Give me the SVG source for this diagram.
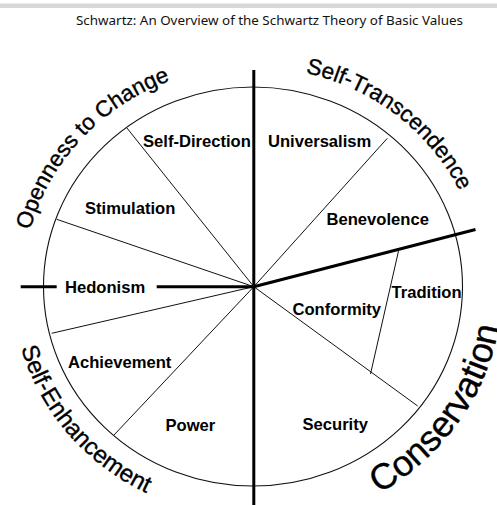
<svg xmlns="http://www.w3.org/2000/svg" xmlns:xlink="http://www.w3.org/1999/xlink" width="497" height="505" viewBox="0 0 497 505">
  <style>
    .value { font-family: "Liberation Sans", Arial, sans-serif; font-weight: bold; font-size: 16.6px; fill: #000; }
    .domain { font-family: "Liberation Sans", Arial, sans-serif; fill: #000; stroke: #000; stroke-width: 0.35; }
    .title { font-family: "Noto Sans", "Open Sans", sans-serif; font-size: 13.4px; fill: #111; }
    .thin { stroke: #111; stroke-width: 1; fill: none; }
    .thick { stroke: #000; stroke-width: 3; fill: none; }
  </style>
  <defs>
    <!-- baselines for the four higher-order domain labels -->
    <path id="arcOpenness" d="M 34.8 357.6 A 230.5 220.5 0 0 1 297.8 70.2"/>
    <path id="arcTranscend" d="M 172.4 81.0 A 229.5 219.5 0 0 1 479.4 322.5"/>
    <path id="arcEnhance" d="M 28.6 203.5 A 240.5 230.5 0 0 0 290.2 514.2"/>
    <path id="arcConserve" d="M 235.2 525.4 A 249.5 239.5 0 0 0 477.5 181.9"/>
  </defs>

  <rect width="497" height="505" fill="#fff"/>
  <rect x="0" y="3.5" width="497" height="4.5" fill="#d8d8d8"/>
  <text class="title" x="76" y="24.5" textLength="387" lengthAdjust="spacingAndGlyphs">Schwartz: An Overview of the Schwartz Theory of Basic Values</text>

  <g id="wheel">
    <ellipse cx="253" cy="286.5" rx="209.5" ry="199.5" fill="none" stroke="#111" stroke-width="1.1"/>
  </g>

  <g id="connectors">
    <!-- thin dividers between neighbouring values -->
    <line class="thin" x1="253.8" y1="286.7" x2="126.7" y2="127.7"/>
    <line class="thin" x1="253.8" y1="286.7" x2="56.7" y2="219.3"/>
    <line class="thin" x1="253.8" y1="286.7" x2="51.7" y2="333.3"/>
    <line class="thin" x1="253.8" y1="286.7" x2="114" y2="435"/>
    <line class="thin" x1="253.8" y1="286.7" x2="387.3" y2="138.3"/>
    <line class="thin" x1="253.8" y1="286.7" x2="417.7" y2="406"/>
    <line class="thin" x1="398.5" y1="251" x2="370.5" y2="374"/>
    <!-- thick axes between the higher-order domains -->
    <line class="thick" x1="253.8" y1="70" x2="253.8" y2="505"/>
    <line class="thick" x1="20.7" y1="286.7" x2="56.7" y2="286.7"/>
    <line class="thick" x1="156.7" y1="286.7" x2="253.8" y2="286.7"/>
    <line class="thick" x1="253.8" y1="286.7" x2="475.5" y2="229.5"/>
  </g>

  <g id="self-direction"><text class="value" x="143" y="147.3">Self-Direction</text></g>
  <g id="stimulation"><text class="value" x="85" y="214">Stimulation</text></g>
  <g id="hedonism"><text class="value" x="65" y="293.3">Hedonism</text></g>
  <g id="achievement"><text class="value" x="68" y="367.7">Achievement</text></g>
  <g id="power"><text class="value" x="165.5" y="431">Power</text></g>
  <g id="security"><text class="value" x="302.5" y="430">Security</text></g>
  <g id="conformity"><text class="value" x="292.5" y="315">Conformity</text></g>
  <g id="tradition"><text class="value" x="391.5" y="298.3">Tradition</text></g>
  <g id="benevolence"><text class="value" x="326.5" y="225">Benevolence</text></g>
  <g id="universalism"><text class="value" x="268" y="147">Universalism</text></g>

  <g id="openness-to-change">
    <text class="domain" font-size="22.5"><textPath xlink:href="#arcOpenness" href="#arcOpenness" startOffset="50%" text-anchor="middle">Openness to Change</textPath></text>
  </g>
  <g id="self-transcendence">
    <text class="domain" font-size="22.5"><textPath xlink:href="#arcTranscend" href="#arcTranscend" startOffset="50%" text-anchor="middle">Self-Transcendence</textPath></text>
  </g>
  <g id="self-enhancement">
    <text class="domain" font-size="24"><textPath xlink:href="#arcEnhance" href="#arcEnhance" startOffset="50%" text-anchor="middle">Self-Enhancement</textPath></text>
  </g>
  <g id="conservation">
    <text class="domain" font-size="36"><textPath xlink:href="#arcConserve" href="#arcConserve" startOffset="50%" text-anchor="middle">Conservation</textPath></text>
  </g>
</svg>
